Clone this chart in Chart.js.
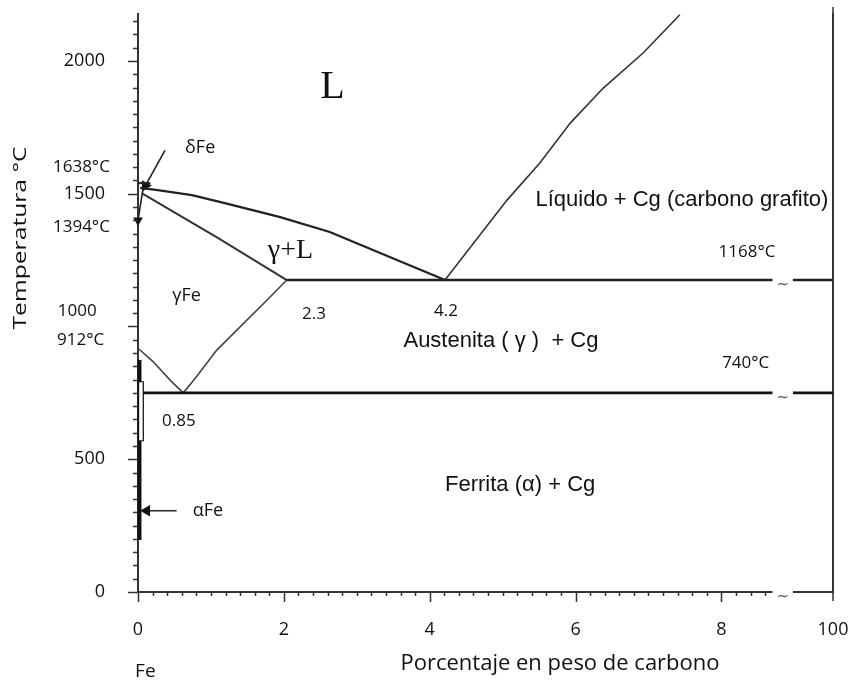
<!DOCTYPE html>
<html>
<head>
<meta charset="utf-8">
<script src="https://cdn.jsdelivr.net/npm/chart.js"></script>
<style>
  html, body { margin: 0; padding: 0; background: #fff; }
  #wrap { width: 852px; height: 685px; }
</style>
</head>
<body>
<div id="wrap"><canvas id="c" width="852" height="685"></canvas></div>
<script>
// Fe-C diagram, values (x: wt.% C, y: °C)
const liqLeftC  = [0.03, 0.27, 0.74, 1.19, 1.95, 2.63, 3.32, 4.21];
const liqLeftT  = [1522, 1514, 1495, 1465, 1412, 1356, 1277, 1175];
const solidusC  = [0.05, 1.10, 2.04];
const solidusT  = [1502, 1333, 1175];
const acmC      = [2.04, 1.77, 1.08, 0.82, 0.71, 0.62];
const acmT      = [1175, 1100, 911, 817, 780, 750];
const a3C       = [0, 0.21, 0.44, 0.62];
const a3T       = [918, 867, 798, 750];
const liqRightC = [4.21, 5.06, 5.51, 5.93, 6.38, 6.93, 7.43];
const liqRightT = [1175, 1476, 1616, 1767, 1898, 2031, 2174];
const deltaC    = [0.07, 0];
const deltaT    = [1520, 1400];
const peritC    = [0, 0.17];
const peritT    = [1540, 1540];
const alphaBarT = [874, 196];
const alphaBoxT = [794, 568];

const eutecticT = 1175, eutecticFromC = 2.04;
const eutectoidT = 750, eutectoidFromC = 0.05;
const breakC = [8.70, 8.98];   // axis break "~"
const xEnd = 9.53;             // drawn as 100 %

const xTickVals = [0, 2, 4, 6, 8, xEnd];
const xTickText = ['0', '2', '4', '6', '8', '100'];
const yTickVals = [0, 500, 1000, 1500, 2000];

const pts = (xs, ys) => xs.map((x, i) => ({ x: x, y: ys[i] }));
const broken = (from, T) => [
  { x: from, y: T }, { x: breakC[0], y: T },
  { x: (breakC[0] + breakC[1]) / 2, y: null },
  { x: breakC[1], y: T }, { x: xEnd, y: T }
];

function line(data, color, width, extra) {
  return Object.assign({
    data: data, showLine: true, pointRadius: 0, borderColor: color,
    borderWidth: width, fill: false, tension: 0, clip: false
  }, extra || {});
}

const datasets = [
  line(broken(0, 0), '#333', 2),
  line(broken(eutecticFromC, eutecticT), '#222', 2.6),
  line(broken(eutectoidFromC, eutectoidT), '#111', 2.6),
  line(pts(liqLeftC, liqLeftT), '#222', 2.3),
  line(pts(solidusC, solidusT), '#333', 2),
  line(pts(acmC, acmT), '#444', 1.6),
  line(pts(a3C, a3T), '#444', 1.6),
  line(pts(liqRightC, liqRightT), '#333', 1.6),
  line(pts(peritC, peritT), '#222', 2),
  line(pts(deltaC, deltaT), '#222', 1.6, {
    pointRadius: [0, 4], pointStyle: 'triangle', pointRotation: 180,
    pointBackgroundColor: '#111', pointBorderColor: '#111'
  }),
  // arrow from "δFe"
  line(pts([0.37, 0.10], [1663, 1530]), '#222', 1.6, {
    pointRadius: [0, 5], pointStyle: 'triangle', pointRotation: 208,
    pointBackgroundColor: '#111', pointBorderColor: '#111'
  }),
  // αFe bar, hollow part (white core drawn on top), arrow
  line(pts([0.02, 0.02], alphaBarT), '#111', 4, { order: 2 }),
  line(pts([0.04, 0.04], alphaBoxT), '#111', 6, { order: 1 }),
  line(pts([0.04, 0.04], [alphaBoxT[0] - 4, alphaBoxT[1] + 4]), '#fff', 3.5, { order: -1 }),
  line(pts([0.53, 0.12], [306, 306]), '#333', 1.6, {
    pointRadius: [0, 5], pointStyle: 'triangle', pointRotation: 270,
    pointBackgroundColor: '#111', pointBorderColor: '#111'
  })
];

const notes = [
  { t: 'L', c: 2.50, T: 1902, f: "40px 'Liberation Serif'" },
  { t: 'δFe', c: 0.645, T: 1672, f: "18px 'Open Sans'" },
  { t: '1638°C', c: -1.166, T: 1601, f: "17px 'Open Sans'" },
  { t: '1394°C', c: -1.166, T: 1375, f: "17px 'Open Sans'" },
  { t: '1000', c: -1.10, T: 1058, f: "17px 'Open Sans'" },
  { t: '912°C', c: -1.11, T: 949, f: "17px 'Open Sans'" },
  { t: 'γ+L', c: 1.78, T: 1284, f: "28px 'Liberation Serif'" },
  { t: 'γFe', c: 0.47, T: 1115, f: "18px 'Open Sans'" },
  { t: '2.3', c: 2.25, T: 1047, f: "17px 'Open Sans'" },
  { t: '4.2', c: 4.06, T: 1058, f: "17px 'Open Sans'" },
  { t: 'Líquido + Cg (carbono grafito)', c: 5.45, T: 1476, f: "22px 'Liberation Sans'" },
  { t: '1168°C', c: 7.96, T: 1281, f: "17px 'Open Sans'" },
  { t: 'Austenita ( γ )  + Cg', c: 3.64, T: 945, f: "22px 'Liberation Sans'" },
  { t: '740°C', c: 8.01, T: 863, f: "17px 'Open Sans'" },
  { t: '0.85', c: 0.33, T: 644, f: "17px 'Open Sans'" },
  { t: 'Ferrita (α) + Cg', c: 4.21, T: 403, f: "22px 'Liberation Sans'" },
  { t: 'αFe', c: 0.75, T: 305, f: "18px 'Open Sans'" },
  { t: 'Fe', c: -0.04, T: -298, f: "19px 'Open Sans'" }
];

const decor = {
  id: 'decor',
  afterDraw(chart) {
    const ctx = chart.ctx, x = chart.scales.x, y = chart.scales.y;
    const x0 = x.getPixelForValue(0), y0 = y.getPixelForValue(0);
    ctx.save();
    ctx.strokeStyle = '#333';
    ctx.lineWidth = 1.5;
    ctx.beginPath();
    for (let i = 0; i * 0.2 <= breakC[0] + 1e-6; i++) {
      const px = Math.round(x.getPixelForValue(i * 0.2)) + 0.5;
      ctx.moveTo(px, y0);
      ctx.lineTo(px, y0 + (i % 10 === 0 ? 10 : 4));
    }
    for (let i = 0; i * 50 <= 2150; i++) {
      const py = Math.round(y.getPixelForValue(i * 50)) + 0.5;
      ctx.moveTo(x0, py);
      ctx.lineTo(x0 - (i % 10 === 0 ? 10 : 5), py);
    }
    const xr = x.getPixelForValue(xEnd);
    ctx.moveTo(xr, y0);
    ctx.lineTo(xr, y0 + 9);
    ctx.moveTo(xr, y.getPixelForValue(2177));
    ctx.lineTo(xr, y.getPixelForValue(2177) - 7);
    ctx.stroke();

    ctx.fillStyle = '#111';
    ctx.textAlign = 'left';
    ctx.textBaseline = 'middle';
    notes.forEach(n => {
      ctx.font = n.f;
      ctx.fillText(n.t, x.getPixelForValue(n.c), y.getPixelForValue(n.T));
    });

    // axis-break marks
    ctx.textAlign = 'center';
    ctx.font = "15px 'DejaVu Sans'";
    ctx.fillStyle = '#555';
    const bx = x.getPixelForValue((breakC[0] + breakC[1]) / 2);
    [0, eutecticT, eutectoidT].forEach(T => ctx.fillText('~', bx, y.getPixelForValue(T) + 5));

    // axis titles
    ctx.fillStyle = '#111';
    ctx.font = "22px 'Open Sans'";
    ctx.fillText('Porcentaje en peso de carbono', 560, 664);
    ctx.save();
    ctx.translate(21, 238);
    ctx.rotate(-Math.PI / 2);
    ctx.font = "19px 'Open Sans'";
    const w = ctx.measureText('Temperatura °C').width;
    ctx.scale(183 / w, 1);
    ctx.fillText('Temperatura °C', 0, 0);
    ctx.restore();
    ctx.restore();
  }
};

const noPad = s => { s.paddingTop = 0; s.paddingBottom = 0; s.paddingLeft = 0; s.paddingRight = 0; };

Chart.defaults.font.family = "'Open Sans', sans-serif";
Chart.defaults.color = '#111';

new Chart(document.getElementById('c'), {
  type: 'scatter',
  data: { datasets: datasets },
  options: {
    responsive: false,
    animation: false,
    layout: { padding: { top: 14, left: 0, right: 0, bottom: 0 } },
    plugins: { legend: { display: false }, tooltip: { enabled: false } },
    scales: {
      x: {
        type: 'linear', min: 0, max: xEnd,
        afterFit: s => { s.height = 93; noPad(s); },
        afterBuildTicks: s => { s.ticks = xTickVals.map(v => ({ value: v })); },
        ticks: {
          font: { size: 18 }, padding: 27, maxRotation: 0, autoSkip: false,
          callback: v => xTickText[xTickVals.indexOf(v)]
        },
        grid: { display: false, drawTicks: false },
        border: { display: false }
      },
      y: {
        type: 'linear', min: 0, max: 2177,
        afterFit: s => { s.width = 138; noPad(s); },
        afterBuildTicks: s => { s.ticks = yTickVals.map(v => ({ value: v })); },
        ticks: {
          font: { size: 18 }, padding: 33, autoSkip: false,
          callback: v => (v === 1000 ? '' : String(v))
        },
        grid: { display: false, drawTicks: false },
        border: { display: true, color: '#333', width: 2 }
      },
      y2: {
        type: 'linear', position: 'right', min: 0, max: 2177,
        afterFit: s => { s.width = 19; noPad(s); },
        ticks: { display: false },
        grid: { display: false, drawTicks: false },
        border: { display: true, color: '#333', width: 2 }
      }
    }
  },
  plugins: [decor]
});
</script>
</body>
</html>
